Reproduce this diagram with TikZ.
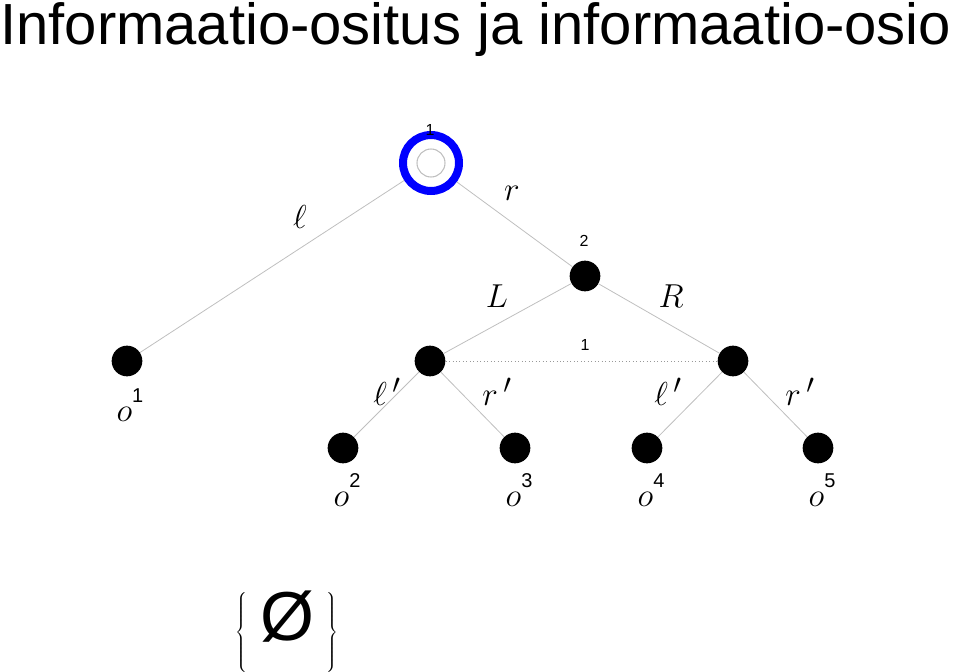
\documentclass[tikz,border=0pt]{standalone}
\usepackage{fontspec}
\setmainfont{Liberation Sans}
\begin{document}
\begin{tikzpicture}[x=0.75pt,y=-0.75pt,
  dot/.style={circle,fill=black,minimum size=23pt,inner sep=0pt},
  edge/.style={draw=black!25,line width=0.6pt},
  ml/.style={font=\fontsize{32}{34}\selectfont},
  num/.style={font=\fontsize{12}{14}\selectfont}]
\useasboundingbox (0,0) rectangle (960,671);
\node[anchor=north west,inner sep=0pt,font=\fontsize{43.5}{46}\selectfont] (title) at (0,2) {Informaatio-ositus ja informaatio-osio};
\node[circle,draw=blue,line width=6pt,minimum size=42pt,inner sep=0pt] (n1) at (431,163) {};
\node[circle,draw=black!25,line width=0.8pt,minimum size=21pt,inner sep=0pt] (n1i) at (431,163) {};
\node[dot] (n2) at (585,276) {};
\node[dot] (o1) at (127,361) {};
\node[dot] (a) at (430,361) {};
\node[dot] (b) at (733,361) {};
\node[dot] (o2) at (343,448) {};
\node[dot] (o3) at (515,448) {};
\node[dot] (o4) at (647,448) {};
\node[dot] (o5) at (818,448) {};
\draw[edge] (n1) -- (o1);
\draw[edge] (n1) -- (n2);
\draw[edge] (n2) -- (a);
\draw[edge] (n2) -- (b);
\draw[edge] (a) -- (o2);
\draw[edge] (a) -- (o3);
\draw[edge] (b) -- (o4);
\draw[edge] (b) -- (o5);
\draw[black!40,dotted,line width=0.6pt] (a) -- (b);
\node[num] (t1) at (430,130) {1};
\node[num] (t2) at (584,241) {2};
\node[num] (t3) at (585,345) {1};
\node[ml] (l1) at (300,217) {$\ell$};
\node[ml] (r1) at (512,193) {$r$};
\node[ml] (L) at (497,296) {$L$};
\node[ml] (R) at (671,296) {$R$};
\node[ml] (l2) at (387,392) {$\ell\,'$};
\node[ml] (r2) at (497,392) {$r\,'$};
\node[ml] (l3) at (668,392) {$\ell\,'$};
\node[ml] (r3) at (800,392) {$r\,'$};
\node[ml] (lo1) at (130,405) {$o$\raisebox{14pt}{\fontsize{15}{17}\selectfont 1}};
\node[ml] (lo2) at (347,490) {$o$\raisebox{14pt}{\fontsize{15}{17}\selectfont 2}};
\node[ml] (lo3) at (519,490) {$o$\raisebox{14pt}{\fontsize{15}{17}\selectfont 3}};
\node[ml] (lo4) at (651,490) {$o$\raisebox{14pt}{\fontsize{15}{17}\selectfont 4}};
\node[ml] (lo5) at (822,490) {$o$\raisebox{14pt}{\fontsize{15}{17}\selectfont 5}};
\node (es) at (287,632) {\fontsize{34}{38}\selectfont$\left\{\vphantom{\rule[-12pt]{0pt}{46pt}}\ \mbox{\fontsize{52}{52}\selectfont Ø}\ \right\}$};
\end{tikzpicture}
\end{document}
